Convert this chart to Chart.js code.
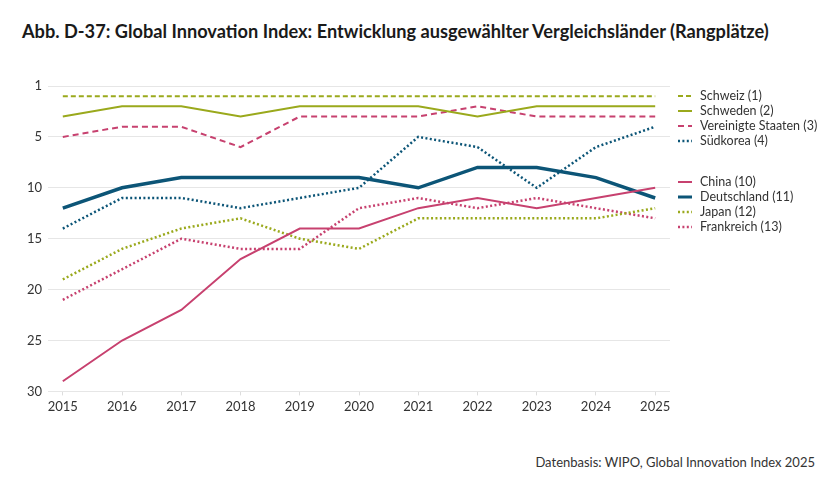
<!DOCTYPE html>
<html lang="de">
<head>
<meta charset="utf-8">
<script src="https://cdn.jsdelivr.net/npm/chart.js@4.4.1/dist/chart.umd.min.js"></script>
<style>
    body { margin: 0; background: #fff; font-family: Lato, "Noto Sans", sans-serif; color: #333; }
    #wrap { position: relative; width: 840px; height: 490px; overflow: hidden; }
    #title { position: absolute; left: 22px; top: 20px; font-size: 18.2px; font-weight: bold; color: #1a1a1a; white-space: nowrap; }
    #chartBox { position: absolute; left: 0; top: 70px; width: 680px; height: 360px; }
    #legend { position: absolute; left: 678px; top: 88px; font-size: 12.5px; }
    #legend .item { height: 15px; line-height: 15px; display: flex; align-items: center; white-space: nowrap; }
    #legend .gap { height: 26px; }
    #legend svg { margin-right: 8px; }
    #source { position: absolute; right: 25px; top: 454px; font-size: 13px; color: #333; }
</style>
</head>
<body>
<div id="wrap">
    <div id="title">Abb. D-37: Global Innovation Index: Entwicklung ausgewählter Vergleichsländer (Rangplätze)</div>
    <div id="chartBox"><canvas id="gii"></canvas></div>
    <div id="legend"></div>
    <div id="source">Datenbasis: WIPO, Global Innovation Index 2025</div>
</div>
<script>
const years = [2015, 2016, 2017, 2018, 2019, 2020, 2021, 2022, 2023, 2024, 2025];
const yTicks = [0, 5, 10, 15, 20, 25, 30];

const schweiz     = [1, 1, 1, 1, 1, 1, 1, 1, 1, 1, 1];
const schweden    = [3, 2, 2, 3, 2, 2, 2, 3, 2, 2, 2];
const usa         = [5, 4, 4, 6, 3, 3, 3, 2, 3, 3, 3];
const suedkorea   = [14, 11, 11, 12, 11, 10, 5, 6, 10, 6, 4];
const china       = [29, 25, 22, 17, 14, 14, 12, 11, 12, 11, 10];
const deutschland = [12, 10, 9, 9, 9, 9, 10, 8, 8, 9, 11];
const japan       = [19, 16, 14, 13, 15, 16, 13, 13, 13, 13, 12];
const frankreich  = [21, 18, 15, 16, 16, 12, 11, 12, 11, 12, 13];

const GREEN = '#9aa91c';
const PINK = '#c7416f';
const BLUE = '#0c5577';
const DOT = [2, 2.4];

function series(label, values, color, width, dash) {
    return {
        label: label,
        data: values.map((v, i) => ({ x: years[i], y: v })),
        borderColor: color,
        backgroundColor: color,
        borderWidth: width,
        borderDash: dash,
        pointRadius: 0,
        tension: 0,
        fill: false
    };
}

const datasets = [
    series('Schweiz (1)', schweiz, GREEN, 2, [5, 3]),
    series('Schweden (2)', schweden, GREEN, 2, []),
    series('Vereinigte Staaten (3)', usa, PINK, 2, [6, 4]),
    series('Südkorea (4)', suedkorea, BLUE, 2.5, DOT),
    series('China (10)', china, PINK, 2, []),
    series('Deutschland (11)', deutschland, BLUE, 3.5, []),
    series('Japan (12)', japan, GREEN, 2.5, DOT),
    series('Frankreich (13)', frankreich, PINK, 2.5, DOT)
];

const ctx = document.getElementById('gii').getContext('2d');
const chart = new Chart(ctx, {
    type: 'line',
    data: { datasets: datasets },
    options: {
        responsive: true,
        maintainAspectRatio: false,
        animation: false,
        layout: { padding: { top: 16, right: 10, bottom: 11, left: 0 } },
        plugins: {
            legend: { display: false },
            tooltip: { enabled: false }
        },
        scales: {
            x: {
                type: 'linear',
                min: 2014.75,
                max: 2025.25,
                afterBuildTicks: s => { s.ticks = years.map(v => ({ value: v })); },
                grid: { drawOnChartArea: false, drawTicks: true, tickLength: 4, color: '#dddddd' },
                border: { display: false },
                ticks: {
                    padding: 4,
                    color: '#333',
                    font: { family: 'Lato', size: 13 },
                    callback: v => String(v)
                }
            },
            y: {
                min: 0,
                max: 30,
                reverse: true,
                afterBuildTicks: s => { s.ticks = yTicks.map(v => ({ value: v })); },
                afterFit: s => { s.width = 48; },
                grid: { color: '#e6e6e6', drawTicks: false },
                border: { display: false },
                ticks: {
                    padding: 6,
                    color: '#333',
                    font: { family: 'Lato', size: 13 },
                    callback: v => v === 0 ? '1' : String(v)
                }
            }
        }
    }
});

// legend with a gap between the two groups
const legend = document.getElementById('legend');
datasets.forEach((ds, i) => {
    if (i === 4) {
        const gap = document.createElement('div');
        gap.className = 'gap';
        legend.appendChild(gap);
    }
    const item = document.createElement('div');
    item.className = 'item';
    const w = Math.min(ds.borderWidth, 3);
    item.innerHTML = `
        <svg width="14" height="6"><line x1="0" y1="3" x2="14" y2="3" stroke="${ds.borderColor}"
            stroke-width="${w}" stroke-dasharray="${ds.borderDash.length ? ds.borderDash.join(' ') : 'none'}"/></svg>
        <span>${ds.label}</span>
    `;
    legend.appendChild(item);
});
</script>
</body>
</html>
